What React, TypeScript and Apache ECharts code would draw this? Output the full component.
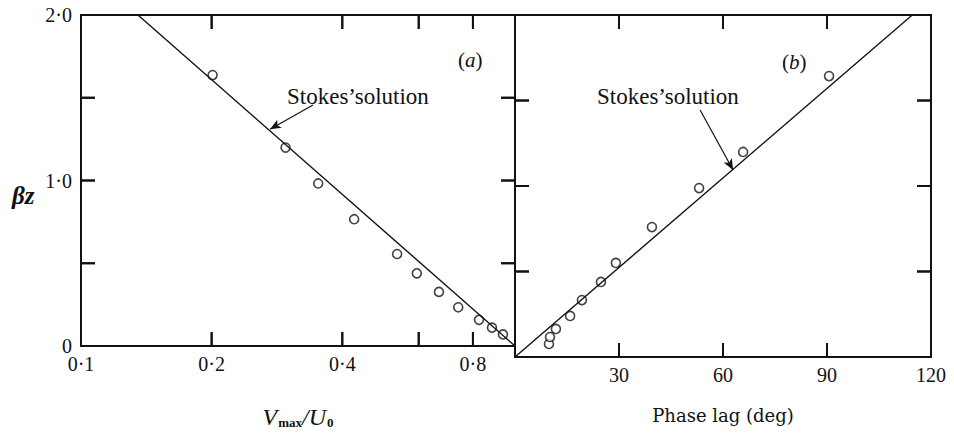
import React, { useEffect, useRef } from "react";
import * as echarts from "echarts";

// Panel (a): V_max/U_0 (log axis) vs beta*z
const aVelocity = [0.201, 0.296, 0.352, 0.426, 0.535, 0.594, 0.668, 0.74, 0.826, 0.885, 0.938];
const aBetaZ = [1.637, 1.199, 0.982, 0.766, 0.556, 0.439, 0.327, 0.234, 0.158, 0.111, 0.07];
// Panel (b): phase lag (deg) vs beta*z
const bPhase = [9.8, 10.1, 11.8, 15.9, 19.3, 24.8, 29.1, 39.5, 53.1, 65.8, 90.6];
const bBetaZ = [0.076, 0.117, 0.164, 0.24, 0.333, 0.439, 0.55, 0.76, 0.988, 1.199, 1.643];
// Stokes' solution end points
const stokesA = [
  [0.1353, 2.0],
  [1.0, 0],
];
const stokesB = [
  [0, 0],
  [114.6, 2.0],
];
// Annotation arrows (data coordinates): tail -> head
const arrowA = [
  [0.3424, 1.456],
  [0.2726, 1.31],
];
const arrowB = [
  [53.4, 1.444],
  [62.9, 1.094],
];
// Ticks / labels
const aTicks = [0.2, 0.4, 0.6, 0.8];
const aLabels = [0.1, 0.2, 0.4, 0.8];
const bTicks = [30, 60, 90];
const yTicks = [0.5, 1.0, 1.5];
const yLabels = [0, 1, 2];

const SERIF = "Liberation Serif";
const BLACK = "#111";
const TICK_PX = 14;
const TICK_W = 2;

const dot = (v: number) => v.toFixed(1).replace(".", "·");

// tick anchors: [x, y, dirX, dirY] (direction in screen space, pointing inward)
const tickItems = (xTicks: number[], xMin: number, xMax: number) => {
  const out: number[][] = [];
  xTicks.forEach((v) => {
    out.push([v, 0, 0, -1]);
    out.push([v, 2, 0, 1]);
  });
  yTicks.forEach((y) => {
    out.push([xMin, y, 1, 0]);
    out.push([xMax, y, -1, 0]);
  });
  return out;
};

const tickRect = (px: number, py: number, dx: number, dy: number) => {
  if (dy !== 0) {
    return { x: px - TICK_W / 2, y: dy < 0 ? py - TICK_PX : py, width: TICK_W, height: TICK_PX };
  }
  return { x: dx > 0 ? px : px - TICK_PX, y: py - TICK_W / 2, width: TICK_PX, height: TICK_W };
};

export default function App() {
  const ref = useRef<HTMLDivElement>(null);
  useEffect(() => {
    if (!ref.current) return;
    const chart = echarts.init(ref.current, null, { renderer: "svg" });
    const axisLine = () => ({ show: true, onZero: false, lineStyle: { color: BLACK, width: 2 } });
    const labelStyle = () => ({ color: BLACK, fontFamily: SERIF, fontSize: 20 });
    const yAxisBase = (gridIndex: number, position: string) => ({
      gridIndex,
      type: "value",
      min: 0,
      max: 2,
      interval: 0.5,
      position,
      axisLine: axisLine(),
      axisTick: { show: false },
      splitLine: { show: false },
      axisLabel: { show: false },
    });

    const renderTick = (_params: any, api: any) => {
      const p = api.coord([api.value(0), api.value(1)]);
      return {
        type: "rect",
        shape: tickRect(p[0], p[1], api.value(2), api.value(3)),
        style: { fill: BLACK },
      };
    };

    const arrow = (a: number[][]) => [
      { coord: a[0], symbol: "none", lineStyle: { color: BLACK, width: 1.2, type: "solid" } },
      { coord: a[1], symbol: "arrow", symbolSize: [7, 11] },
    ];

    const option: any = {
      animation: false,
      backgroundColor: "#fff",
      grid: [
        { left: 81, top: 15, width: 434, height: 342 },
        { left: 515, top: 15, width: 416, height: 342 },
      ],
      xAxis: [
        {
          gridIndex: 0,
          type: "log",
          min: 0.1,
          max: 1,
          position: "bottom",
          axisLine: axisLine(),
          axisTick: { show: false },
          minorTick: { show: false },
          splitLine: { show: false },
          axisLabel: {
            ...labelStyle(),
            customValues: aLabels,
            margin: 8,
            formatter: (v: number) => dot(v),
          },
          name: "{i|V}{s|max}{n|/}{i|U}{s|0}",
          nameLocation: "middle",
          nameGap: 58,
          nameTextStyle: {
            rich: {
              i: { fontFamily: SERIF, fontStyle: "italic", fontSize: 24, color: BLACK },
              n: { fontFamily: SERIF, fontStyle: "italic", fontSize: 24, color: BLACK },
              s: {
                fontFamily: SERIF,
                fontSize: 13,
                fontWeight: "bold",
                color: BLACK,
                verticalAlign: "bottom",
                padding: [12, 0, 0, 1],
              },
            },
          },
        },
        {
          gridIndex: 0,
          type: "log",
          min: 0.1,
          max: 1,
          position: "top",
          axisLine: axisLine(),
          axisTick: { show: false },
          splitLine: { show: false },
          axisLabel: { show: false },
        },
        {
          gridIndex: 1,
          type: "value",
          min: 0,
          max: 120,
          interval: 30,
          position: "bottom",
          axisLine: axisLine(),
          axisTick: { show: false },
          splitLine: { show: false },
          axisLabel: { ...labelStyle(), margin: 8, showMinLabel: false },
          name: "Phase lag (deg)",
          nameLocation: "middle",
          nameGap: 49,
          nameTextStyle: { fontFamily: "DejaVu Serif", fontSize: 18, color: BLACK },
        },
        {
          gridIndex: 1,
          type: "value",
          min: 0,
          max: 120,
          interval: 30,
          position: "top",
          axisLine: axisLine(),
          axisTick: { show: false },
          splitLine: { show: false },
          axisLabel: { show: false },
        },
      ],
      yAxis: [
        {
          ...yAxisBase(0, "left"),
          axisLabel: {
            ...labelStyle(),
            margin: 9,
            customValues: yLabels,
            formatter: (v: number) => (v === 0 ? "0" : dot(v)),
          },
        },
        yAxisBase(0, "right"),
        yAxisBase(1, "left"),
        yAxisBase(1, "right"),
      ],
      series: [
        {
          type: "line",
          xAxisIndex: 0,
          yAxisIndex: 0,
          data: stokesA,
          showSymbol: false,
          symbol: "none",
          lineStyle: { color: BLACK, width: 1.4 },
          markLine: {
            silent: true,
            symbol: "none",
            label: { show: false },
            lineStyle: { color: BLACK, width: 1.2, type: "solid" },
            data: [arrow(arrowA)],
          },
        },
        {
          type: "scatter",
          xAxisIndex: 0,
          yAxisIndex: 0,
          data: aVelocity.map((v, i) => [v, aBetaZ[i]]),
          symbol: "circle",
          symbolSize: 9,
          itemStyle: { color: "#fff", borderColor: BLACK, borderWidth: 1.6 },
        },
        {
          type: "line",
          xAxisIndex: 2,
          yAxisIndex: 2,
          data: stokesB,
          showSymbol: false,
          symbol: "none",
          lineStyle: { color: BLACK, width: 1.4 },
          markLine: {
            silent: true,
            symbol: "none",
            label: { show: false },
            lineStyle: { color: BLACK, width: 1.2, type: "solid" },
            data: [arrow(arrowB)],
          },
        },
        {
          type: "scatter",
          xAxisIndex: 2,
          yAxisIndex: 2,
          data: bPhase.map((v, i) => [v, bBetaZ[i]]),
          symbol: "circle",
          symbolSize: 9,
          itemStyle: { color: "#fff", borderColor: BLACK, borderWidth: 1.6 },
        },
        {
          type: "custom",
          xAxisIndex: 0,
          yAxisIndex: 0,
          z: 100,
          silent: true,
          clip: false,
          encode: { x: 0, y: 1 },
          data: tickItems(aTicks, 0.1, 1),
          renderItem: renderTick,
        },
        {
          type: "custom",
          xAxisIndex: 2,
          yAxisIndex: 2,
          z: 100,
          silent: true,
          clip: false,
          encode: { x: 0, y: 1 },
          data: tickItems(bTicks, 0, 120),
          renderItem: renderTick,
        },
      ],
      graphic: [
        {
          type: "text",
          left: 12,
          top: 183,
          style: {
            text: "βz",
            fontFamily: SERIF,
            fontStyle: "italic",
            fontWeight: "bold",
            fontSize: 25,
            fill: BLACK,
          },
        },
        {
          type: "text",
          x: 287,
          y: 96,
          style: {
            text: "Stokes’solution",
            fontFamily: SERIF,
            fontSize: 23,
            fill: BLACK,
            verticalAlign: "middle",
          },
        },
        {
          type: "text",
          x: 597,
          y: 96,
          style: {
            text: "Stokes’solution",
            fontFamily: SERIF,
            fontSize: 23,
            fill: BLACK,
            verticalAlign: "middle",
          },
        },
        {
          type: "text",
          x: 458,
          y: 60,
          style: {
            text: "({i|a})",
            fontFamily: SERIF,
            fontSize: 21,
            fill: BLACK,
            verticalAlign: "middle",
            rich: { i: { fontFamily: SERIF, fontStyle: "italic", fontSize: 21, fill: BLACK } },
          },
        },
        {
          type: "text",
          x: 782,
          y: 62,
          style: {
            text: "({i|b})",
            fontFamily: SERIF,
            fontSize: 21,
            fill: BLACK,
            verticalAlign: "middle",
            rich: { i: { fontFamily: SERIF, fontStyle: "italic", fontSize: 21, fill: BLACK } },
          },
        },
      ],
    };
    chart.setOption(option);

    // Second, independent tick overlay: positions come from the chart's own scales.
    const overlay: any[] = [];
    const addTicks = (gridIndex: number, items: number[][]) => {
      items.forEach((it, k) => {
        const p = chart.convertToPixel({ gridIndex } as any, [it[0], it[1]]) as number[];
        if (!p || isNaN(p[0]) || isNaN(p[1])) return;
        overlay.push({
          type: "rect",
          id: `tick-${gridIndex}-${k}`,
          z: 1000,
          silent: true,
          shape: tickRect(p[0], p[1], it[2], it[3]),
          style: { fill: BLACK },
        });
      });
    };
    addTicks(0, tickItems(aTicks, 0.1, 1));
    addTicks(1, tickItems(bTicks, 0, 120));
    chart.setOption({ graphic: overlay });

    return () => chart.dispose();
  }, []);
  return (
    <div
      ref={ref}
      style={{ position: "fixed", left: 0, top: 0, width: 954, height: 434, background: "#fff" }}
    />
  );
}
